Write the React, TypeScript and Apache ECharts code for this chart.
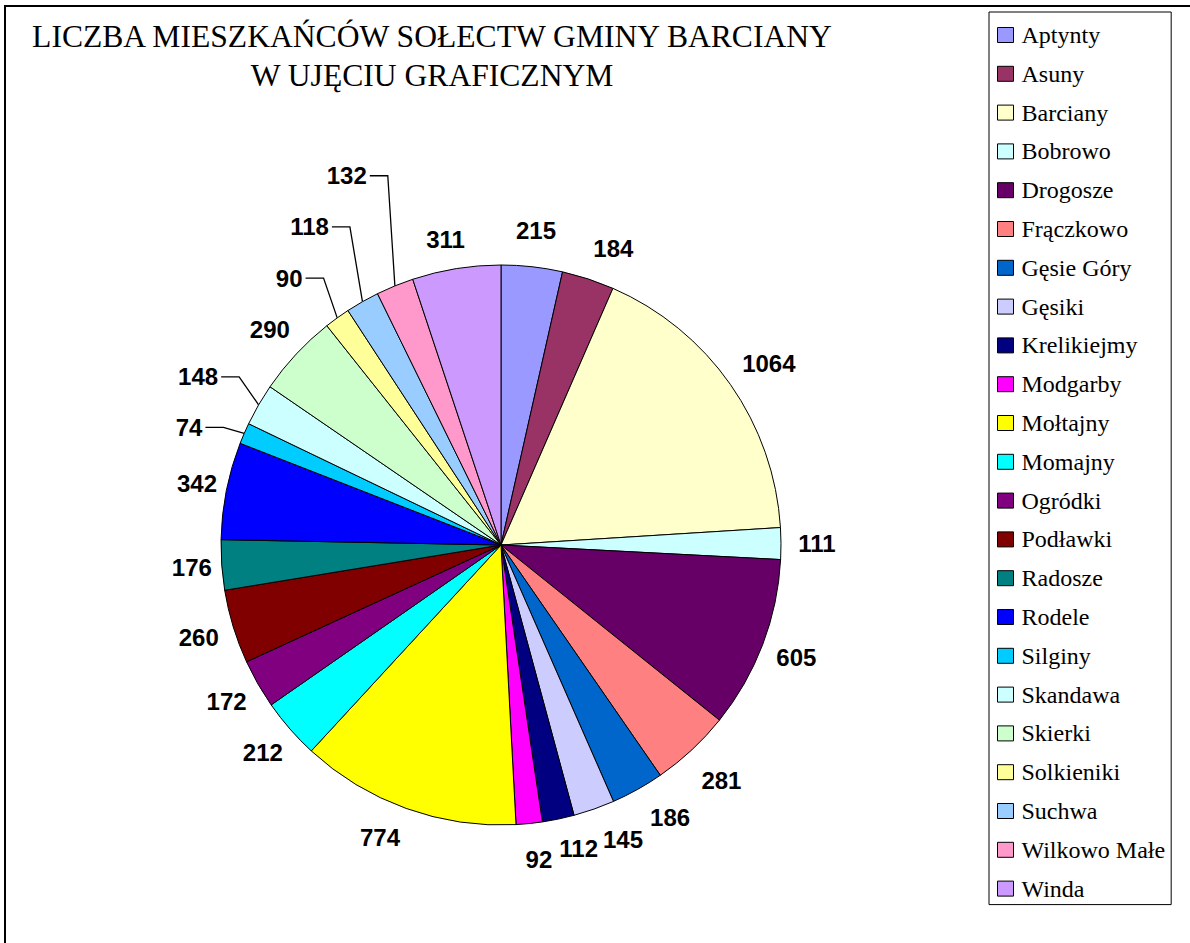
import React, { useEffect, useRef } from "react";
import * as echarts from "echarts";

const TITLE = "LICZBA MIESZKAŃCÓW SOŁECTW GMINY BARCIANY\nW UJĘCIU GRAFICZNYM";

const NAMES = [
  "Aptynty", "Asuny", "Barciany", "Bobrowo", "Drogosze", "Frączkowo",
  "Gęsie Góry", "Gęsiki", "Krelikiejmy", "Modgarby", "Mołtajny", "Momajny",
  "Ogródki", "Podławki", "Radosze", "Rodele", "Silginy", "Skandawa",
  "Skierki", "Solkieniki", "Suchwa", "Wilkowo Małe", "Winda",
];

const VALUES = [
  215, 184, 1064, 111, 605, 281,
  186, 145, 112, 92, 774, 212,
  172, 260, 176, 342, 74, 148,
  290, 90, 118, 132, 311,
];

const COLORS = [
  "#9999FF", "#993366", "#FFFFCC", "#CCFFFF", "#660066", "#FF8080",
  "#0066CC", "#CCCCFF", "#000080", "#FF00FF", "#FFFF00", "#00FFFF",
  "#800080", "#800000", "#008080", "#0000FF", "#00CCFF", "#CCFFFF",
  "#CCFFCC", "#FFFF99", "#99CCFF", "#FF99CC", "#CC99FF",
];

// slices whose labels sit on a leader line: [radial length, horizontal length]
const LEADER_LINES: Record<string, [number, number]> = {
  "Silginy": [15, 18],
  "Skandawa": [56, 18],
  "Solkieniki": [49, 18],
  "Suchwa": [86, 18],
  "Wilkowo Małe": [119, 18],
};

// manual label nudges (as moved by hand in the original), [dx, dy]
const LABEL_NUDGE: Record<string, [number, number]> = {
  "Asuny": [14, 4],
  "Barciany": [9, 0],
  "Frączkowo": [5, 4],
  "Gęsie Góry": [15, -3],
  "Gęsiki": [17, -4],
  "Krelikiejmy": [13, -6],
  "Modgarby": [6, 0],
  "Mołtajny": [-14, -5],
  "Radosze": [6, 0],
  "Rodele": [6, 0],
  "Winda": [-5, 6],
  "Silginy": [-7, 0],
  "Skandawa": [29, 0],
  "Solkieniki": [15, 0],
  "Suchwa": [30, 0],
  "Wilkowo Małe": [38, 0],
};

const SERIF = "'Liberation Serif', 'Times New Roman', serif";

export default function App() {
  const ref = useRef<HTMLDivElement>(null);

  useEffect(() => {
    if (!ref.current) return;
    const chart = echarts.init(ref.current, null, { renderer: "svg" });

    const data = NAMES.map((name, i) => {
      const item: any = {
        name,
        value: VALUES[i],
        itemStyle: { color: COLORS[i] },
      };
      const leader = LEADER_LINES[name];
      if (leader) {
        item.labelLine = { show: true, length: leader[0], length2: leader[1] };
        item.label = { distanceToLabelLine: 3 };
      }
      return item;
    });

    const labelLayout = (p: any) => {
      const name = NAMES[p.dataIndex];
      const nudge = LABEL_NUDGE[name] || [0, 0];
      if (LEADER_LINES[name]) {
        const pts = p.labelLinePoints;
        const out: any = { dx: nudge[0], dy: nudge[1] };
        if (pts && pts.length === 3) {
          out.labelLinePoints = [
            [pts[0][0], pts[0][1]],
            [pts[1][0] + nudge[0], pts[1][1] + nudge[1]],
            [pts[2][0] + nudge[0], pts[2][1] + nudge[1]],
          ];
        }
        return out;
      }
      return { align: "center", dx: nudge[0], dy: nudge[1] };
    };

    chart.setOption({
      animation: false,
      backgroundColor: "#ffffff",
      textStyle: { fontFamily: SERIF },
      title: {
        text: TITLE,
        left: 432,
        top: 17,
        padding: 0,
        textAlign: "center",
        textStyle: {
          fontFamily: SERIF,
          fontWeight: "normal",
          fontSize: 31.6,
          lineHeight: 39,
          color: "#000",
        },
      },
      legend: {
        orient: "vertical",
        left: 989,
        top: 12,
        padding: [11, 6, 4, 8],
        itemGap: 14.8,
        itemWidth: 16,
        itemHeight: 15,
        icon: "rect",
        selectedMode: false,
        borderColor: "#000",
        borderWidth: 1,
        itemStyle: { borderColor: "#000", borderWidth: 1 },
        formatter: "{n|{name}}",
        textStyle: {
          fontFamily: SERIF,
          fontSize: 24,
          lineHeight: 24,
          color: "#000",
          rich: {
            n: {
              fontFamily: SERIF,
              fontSize: 24,
              lineHeight: 24,
              color: "#000",
              padding: [0, 0, 0, 3],
            },
          },
        },
        data: NAMES,
      },
      graphic: [
        {
          type: "rect",
          shape: { x: 5, y: 6, width: 1220, height: 960 },
          style: { fill: "none", stroke: "#000", lineWidth: 2 },
          silent: true,
        },
      ],
      series: [
        {
          type: "pie",
          center: [501, 545],
          radius: 280,
          startAngle: 90,
          clockwise: true,
          avoidLabelOverlap: false,
          emphasis: { disabled: true },
          itemStyle: { borderColor: "#000", borderWidth: 1 },
          label: {
            show: true,
            position: "outside",
            formatter: "{c}",
            color: "#000",
            fontFamily: "'Liberation Sans', Arial, sans-serif",
            fontWeight: "bold",
            fontSize: 24,
            distanceToLabelLine: 0,
          },
          labelLine: {
            show: false,
            length: 36,
            length2: 0,
            lineStyle: { color: "#000", width: 1.3 },
          },
          labelLayout,
          data,
        },
      ],
    });

    return () => chart.dispose();
  }, []);

  return (
    <div
      ref={ref}
      style={{ position: "absolute", left: 0, top: 0, width: 1190, height: 943 }}
    />
  );
}
